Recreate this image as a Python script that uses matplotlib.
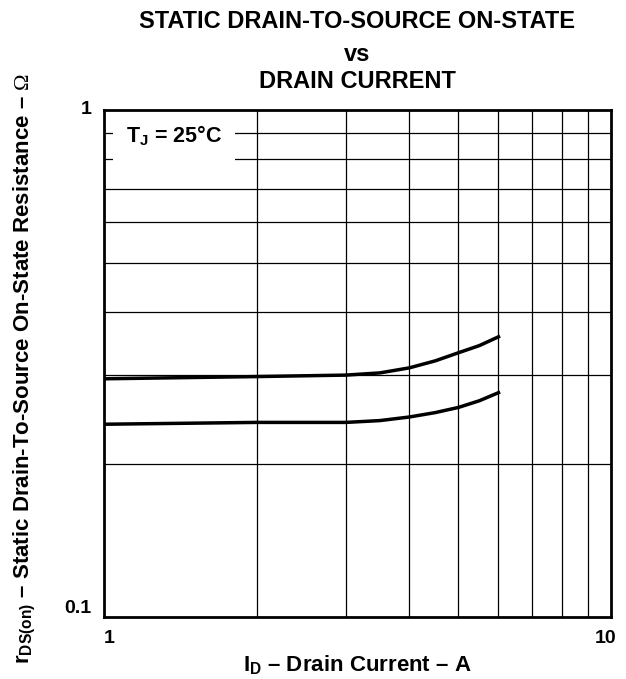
import matplotlib.pyplot as plt
import matplotlib.transforms as mtransforms
import numpy as np

plt.rcParams['font.family'] = ['Liberation Sans', 'DejaVu Sans']
plt.rcParams['mathtext.fontset'] = 'custom'
plt.rcParams['mathtext.rm'] = 'Liberation Sans:bold'
plt.rcParams['mathtext.sf'] = 'Liberation Serif'

# ---------------------------
# Datos
# ---------------------------
id_alto = [1.0, 2.0, 3.0, 3.5, 4.0, 4.5, 5.0, 5.5, 6.0]
rds_alto = [0.295, 0.298, 0.300, 0.303, 0.310, 0.320, 0.332, 0.343, 0.357]

id_bajo = [1.0, 2.0, 3.0, 3.5, 4.0, 4.5, 5.0, 5.5, 6.0]
rds_bajo = [0.240, 0.242, 0.242, 0.244, 0.248, 0.253, 0.259, 0.267, 0.277]

grid_x = [2, 3, 4, 5, 6, 7, 8, 9]
grid_y = [0.2, 0.3, 0.4, 0.5, 0.6, 0.7, 0.8, 0.9]

fig = plt.figure(figsize=(6.26, 6.79), dpi=100)
ax = fig.add_axes([0.166, 0.0913, 0.81, 0.7467])

ax.set_xscale('log')
ax.set_yscale('log')
ax.set_xlim(1, 10)
ax.set_ylim(0.1, 1)

# rejilla
for gx in grid_x:
    ax.axvline(gx, color='black', linewidth=0.9, zorder=1)
for gy in grid_y:
    ax.axhline(gy, color='black', linewidth=0.9, zorder=1)

# curvas
ax.plot(id_alto, rds_alto, color='black', linewidth=2.5, zorder=3)
ax.plot(id_bajo, rds_bajo, color='black', linewidth=2.5, zorder=3)

for s in ax.spines.values():
    s.set_linewidth(2)
    s.set_zorder(4)

ax.minorticks_off()
ax.tick_params(length=0, pad=9)
ax.set_xticks([1, 10])
ax.set_xticklabels(['1', '10'], fontsize=14, fontweight='bold')
ax.set_yticks([0.1, 1])
ax.set_yticklabels(['0.1', '1'], fontsize=14, fontweight='bold')
xl = ax.get_xticklabels()
xl[0].set_ha('left')
xl[1].set_ha('right')
xl[1].set_transform(xl[1].get_transform() +
                    mtransforms.ScaledTranslation(5 / 100, 0, fig.dpi_scale_trans))
yl = ax.get_yticklabels()
yl[0].set_va('bottom')
yl[1].set_va('center')

# etiqueta TJ con fondo blanco
ax.text(1.105, 0.89, r'T$_{\mathrm{J}}$ = 25°C', fontsize=15.5, fontweight='bold',
        va='center', ha='left', zorder=2,
        bbox=dict(boxstyle='square,pad=0.6', facecolor='white', edgecolor='none'))

ax.set_xlabel(r'I$_{\mathrm{D}}$ – Drain Current – A', fontsize=16,
              fontweight='bold')
ax.xaxis.set_label_coords(0.5, -0.072)
ax.set_ylabel(r'r$_{\mathrm{DS(on)}}$ – Static Drain-To-Source On-State Resistance – $\mathsf{\Omega}$',
              fontsize=16, fontweight='bold')
ax.yaxis.set_label_coords(-0.13, 0.49)

fig.text(0.571, 1 - 28 / 679, 'STATIC DRAIN-TO-SOURCE ON-STATE', ha='center',
         va='baseline', fontsize=17, fontweight='bold')
fig.text(0.571, 1 - 61 / 679, 'vs', ha='center', va='baseline', fontsize=17,
         fontweight='bold')
fig.text(0.571, 1 - 88 / 679, 'DRAIN CURRENT', ha='center', va='baseline',
         fontsize=17, fontweight='bold')

fig.savefig('out.png', dpi=100)
